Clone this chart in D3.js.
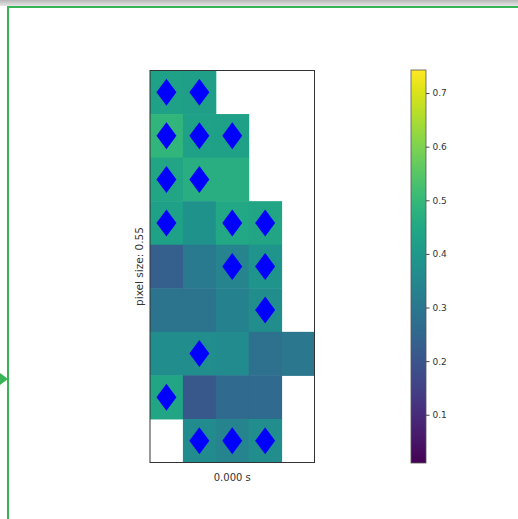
<!DOCTYPE html>
<html>
<head>
<meta charset="utf-8">
<script src="https://cdn.jsdelivr.net/npm/d3@7"></script>
<style>
  html, body { margin: 0; padding: 0; background: #fff; }
  svg { display: block; }
  text { font-family: "DejaVu Sans", sans-serif; }
</style>
</head>
<body>
<svg id="chart" width="518" height="519"></svg>
<script>
// Grid values, one row per line (top to bottom); null = no data
const rowLabels = [0, 1, 2, 3, 4, 5, 6, 7, 8];
const colLabels = [0, 1, 2, 3, 4];
const cellValues = [
  [0.43, 0.42, null, null, null],
  [0.49, 0.43, 0.43, null, null],
  [0.44, 0.47, 0.47, null, null],
  [0.43, 0.38, 0.45, 0.44, null],
  [0.23, 0.31, 0.34, 0.39, null],
  [0.29, 0.29, 0.33, 0.37, null],
  [0.37, 0.37, 0.36, 0.28, 0.30],
  [0.44, 0.21, 0.26, 0.26, null],
  [null, 0.36, 0.34, 0.37, null]
];
// Cells flagged with a diamond marker: [row, col]
const markedCells = [
  [0, 0], [0, 1],
  [1, 0], [1, 1], [1, 2],
  [2, 0], [2, 1],
  [3, 0], [3, 2], [3, 3],
  [4, 2], [4, 3],
  [5, 3],
  [6, 1],
  [7, 0],
  [8, 1], [8, 2], [8, 3]
];
const colorDomain = [0.01, 0.743];
const colorbarTicks = [0.1, 0.2, 0.3, 0.4, 0.5, 0.6, 0.7];
const xLabel = "0.000 s";
const yLabel = "pixel size: 0.55";

const svg = d3.select("#chart");

// Window frame: shaded strip, green rule lines and side pointer
const grad = svg.append("defs").append("linearGradient")
  .attr("id", "topShade").attr("x1", 0).attr("y1", 0).attr("x2", 0).attr("y2", 1);
grad.append("stop").attr("offset", "0%").attr("stop-color", "#b8b8b8");
grad.append("stop").attr("offset", "100%").attr("stop-color", "#e6e6e6");
svg.append("rect").attr("x", 0).attr("y", 0).attr("width", 518).attr("height", 6)
  .attr("fill", "url(#topShade)");
svg.append("rect").attr("x", 7).attr("y", 6).attr("width", 511).attr("height", 2)
  .attr("fill", "#36b456");
svg.append("rect").attr("x", 7).attr("y", 6).attr("width", 2).attr("height", 513)
  .attr("fill", "#36b456");
svg.append("path").attr("d", "M0,373L8,379L0,385Z").attr("fill", "#36b456");

// Heatmap area
const plot = { left: 150, top: 70.5, right: 314.5, bottom: 462.5 };
const x = d3.scaleBand().domain(colLabels).range([plot.left, plot.right]);
const y = d3.scaleBand().domain(rowLabels).range([plot.top, plot.bottom]);
const color = d3.scaleSequential(d3.interpolateViridis).domain(colorDomain);

const cells = [];
cellValues.forEach((row, r) => row.forEach((v, c) => {
  if (v !== null) cells.push({ r, c, v });
}));

svg.append("g").selectAll("rect").data(cells).join("rect")
  .attr("x", d => x(d.c))
  .attr("y", d => y(d.r))
  .attr("width", x.bandwidth() + 0.5)
  .attr("height", y.bandwidth() + 0.5)
  .attr("fill", d => color(d.v));

// Thin diamond markers centred in flagged cells
const mw = 10, mh = 13.5;
const diamond = `M0,${-mh}L${mw},0L0,${mh}L${-mw},0Z`;
svg.append("g").selectAll("path").data(markedCells).join("path")
  .attr("d", diamond)
  .attr("transform", d => `translate(${x(d[1]) + x.bandwidth() / 2},${y(d[0]) + y.bandwidth() / 2})`)
  .attr("fill", "#0000ff");

// Frame
svg.append("rect")
  .attr("x", plot.left).attr("y", plot.top)
  .attr("width", plot.right - plot.left).attr("height", plot.bottom - plot.top)
  .attr("fill", "none").attr("stroke", "#333").attr("stroke-width", 1);

svg.append("text")
  .attr("x", (plot.left + plot.right) / 2).attr("y", 481)
  .attr("text-anchor", "middle").attr("font-size", 10).attr("fill", "#333")
  .text(xLabel);

svg.append("text")
  .attr("transform", `translate(143,${(plot.top + plot.bottom) / 2}) rotate(-90)`)
  .attr("text-anchor", "middle").attr("font-size", 10.5).attr("fill", "#333")
  .text(yLabel);

// Colorbar
const cb = { left: 411, width: 15, top: 70, bottom: 463 };
const cy = d3.scaleLinear().domain(colorDomain).range([cb.bottom, cb.top]);
const cbGrad = svg.select("defs").append("linearGradient")
  .attr("id", "cbGrad").attr("x1", 0).attr("y1", 1).attr("x2", 0).attr("y2", 0);
d3.range(0, 1.0001, 0.05).forEach(t => {
  cbGrad.append("stop").attr("offset", `${t * 100}%`)
    .attr("stop-color", d3.interpolateViridis(t));
});
svg.append("rect")
  .attr("x", cb.left).attr("y", cb.top)
  .attr("width", cb.width).attr("height", cb.bottom - cb.top)
  .attr("fill", "url(#cbGrad)").attr("stroke", "#555").attr("stroke-width", 0.8);

const cbAxis = svg.append("g")
  .attr("transform", `translate(${cb.left + cb.width},0)`)
  .call(d3.axisRight(cy).tickValues(colorbarTicks).tickSize(3.5).tickPadding(3)
    .tickFormat(d3.format(".1f")));
cbAxis.select(".domain").remove();
cbAxis.selectAll("line").attr("stroke", "#444");
cbAxis.selectAll("text").attr("font-size", 9).attr("fill", "#333")
  .attr("font-family", "DejaVu Sans, sans-serif");
</script>
</body>
</html>
